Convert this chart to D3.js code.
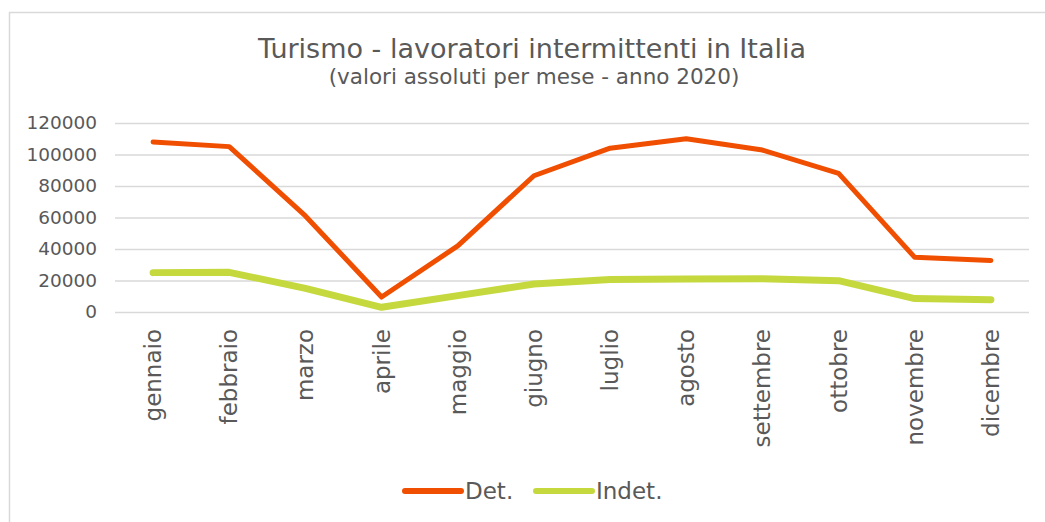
<!DOCTYPE html>
<html>
<head>
<meta charset="utf-8">
<script src="https://cdn.jsdelivr.net/npm/d3@7"></script>
<style>
  body { margin: 0; background: #fff; }
  text { font-family: "DejaVu Sans", Verdana, sans-serif; fill: #595959; }
</style>
</head>
<body>
<div id="chart"></div>
<script>
const mesi = ["gennaio", "febbraio", "marzo", "aprile", "maggio", "giugno",
    "luglio", "agosto", "settembre", "ottobre", "novembre", "dicembre"];
const det = [108000, 105000, 61000, 9500, 42000, 86500, 104000, 110000, 102800, 88000, 34700, 32700];
const indet = [25000, 25200, 15000, 3000, 10400, 17800, 20700, 21000, 21100, 19900, 8500, 7800];
const yTicks = [0, 20000, 40000, 60000, 80000, 100000, 120000];
const series = [
    {name: "Det.", values: det, color: "#f04e00", width: 5},
    {name: "Indet.", values: indet, color: "#c5d93e", width: 7}
];

const W = 1045, H = 522;
const margin = {top: 123, right: 16, bottom: 210, left: 115},
    width = W - margin.left - margin.right,
    height = H - margin.top - margin.bottom;

const svg = d3.select("#chart").append("svg")
    .attr("width", W)
    .attr("height", H);

// chart area border (only left and top visible in the frame)
svg.append("rect")
    .attr("x", 9.5).attr("y", 12.5)
    .attr("width", W + 20).attr("height", H + 20)
    .attr("fill", "none")
    .attr("stroke", "#d9d9d9")
    .attr("stroke-width", 1.5);

svg.append("text")
    .attr("x", 532).attr("y", 58)
    .attr("text-anchor", "middle")
    .style("font-size", "27px")
    .text("Turismo - lavoratori intermittenti in Italia");

svg.append("text")
    .attr("x", 534).attr("y", 84)
    .attr("text-anchor", "middle")
    .style("font-size", "21.5px")
    .text("(valori assoluti per mese - anno 2020)");

const g = svg.append("g")
    .attr("transform", "translate(" + margin.left + "," + margin.top + ")");

const x = d3.scaleBand().domain(mesi).range([0, width]);
const y = d3.scaleLinear().domain([0, 120000]).range([height, 0]);

// gridlines + y labels
const yAxis = g.append("g")
    .call(d3.axisLeft(y).tickValues(yTicks).tickSize(-width).tickPadding(18).tickFormat(d3.format("d")));
yAxis.select(".domain").remove();
yAxis.selectAll(".tick line").attr("stroke", "#d9d9d9").attr("stroke-width", 1.5);
yAxis.selectAll(".tick text").style("font-size", "18.5px").attr("fill", "#595959");

// x labels
const xAxis = g.append("g")
    .attr("transform", "translate(0," + height + ")")
    .call(d3.axisBottom(x).tickSize(0));
xAxis.select(".domain").remove();
xAxis.selectAll(".tick text")
    .style("font-size", "23px")
    .attr("fill", "#595959")
    .attr("text-anchor", "end")
    .attr("transform", "rotate(-90)")
    .attr("x", -17)
    .attr("y", 0)
    .attr("dy", "0.35em");

const line = d3.line()
    .x((d, i) => x(mesi[i]) + x.bandwidth() / 2)
    .y(d => y(d));

series.forEach(s => {
    g.append("path")
        .datum(s.values)
        .attr("fill", "none")
        .attr("stroke", s.color)
        .attr("stroke-width", s.width)
        .attr("stroke-linecap", "round")
        .attr("stroke-linejoin", "round")
        .attr("d", line);
});

// legend
const legendX = [405, 536];
const legend = svg.append("g");
series.forEach((s, i) => {
    legend.append("line")
        .attr("x1", legendX[i]).attr("x2", legendX[i] + 56)
        .attr("y1", 491).attr("y2", 491)
        .attr("stroke", s.color)
        .attr("stroke-width", 6)
        .attr("stroke-linecap", "round");
    legend.append("text")
        .attr("x", legendX[i] + 60).attr("y", 499)
        .style("font-size", "23px")
        .text(s.name);
});
</script>
</body>
</html>
